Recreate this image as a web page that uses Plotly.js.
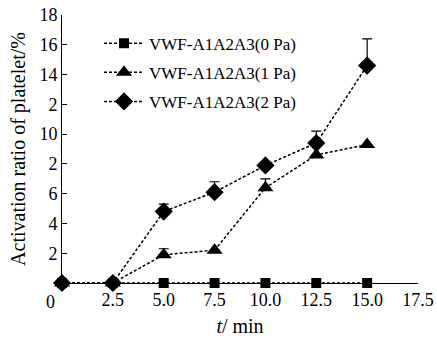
<!DOCTYPE html>
<html>
<head>
<meta charset="utf-8">
<script src="https://cdn.plot.ly/plotly-3.0.1.min.js"></script>
<style>html,body{margin:0;padding:0;background:#fff;}#chart{width:437px;height:339px;}</style>
</head>
<body>
<div id="chart"></div>
<script>
const times = [0, 2.5, 5.0, 7.5, 10.0, 12.5, 15.0];
const pa0 = [0, 0, 0, 0, 0, 0, 0];
const pa1 = [0, 0, 1.9, 2.2, 6.4, 8.6, 9.3];
const pa1Err = [0, 0, 0.4, 0, 0.6, 0, 0];
const pa2 = [0, 0, 4.8, 6.1, 7.9, 9.4, 14.6];
const pa2Err = [0, 0, 0.5, 0.7, 0.2, 0.8, 1.8];
const names = ['VWF-A1A2A3(0 Pa)', 'VWF-A1A2A3(1 Pa)', 'VWF-A1A2A3(2 Pa)'];
const xTickVals = [2.5, 5.0, 7.5, 10.0, 12.5, 15.0, 17.5];
const xTickText = ['2.5', '5.0', '7.5', '10.0', '12.5', '15.0', '17.5'];
const yTickVals = [2, 4, 6, 8, 10, 12, 14, 16, 18];
const yTickText = ['2', '4', '6', '2', '10', '2', '14', '16', '18'];

const fam = 'Liberation Serif';
const font = {family: fam, size: 17, color: '#000'};
const tickFont = {family: fam, size: 18, color: '#000'};
const titleFont = {family: fam, size: 20, color: '#000'};
const line = {color: '#000', width: 1.5, dash: '3px,2px'};
function zeros(a){return a.map(()=>0);}

const traces = [
  {x: times, y: pa0, name: names[0], legendgroup: 'a', mode: 'lines+markers', line: line, cliponaxis: false,
   marker: {symbol: 'square', size: 10, color: '#000'}},
  {x: times, y: pa1, name: names[1], legendgroup: 'b', mode: 'lines+markers', line: line, cliponaxis: false,
   marker: {symbol: 'triangle-up', size: 14, color: '#000'},
   error_y: {type: 'data', symmetric: false, array: pa1Err, arrayminus: zeros(pa1Err), color: '#000', thickness: 1.2, width: 5}},
  {x: times, y: pa2, name: names[2], legendgroup: 'c', mode: 'lines+markers', line: line, cliponaxis: false,
   marker: {symbol: 'diamond', size: 14, color: '#000'},
   error_y: {type: 'data', symmetric: false, array: pa2Err, arrayminus: zeros(pa2Err), color: '#000', thickness: 1.2, width: 5}}
];

const layout = {
  width: 437, height: 339,
  margin: {l: 62, r: 19, t: 15, b: 56},
  paper_bgcolor: '#fff', plot_bgcolor: '#fff',
  font: font,
  showlegend: true,
  legend: {x: 0.104, y: 0.96, xanchor: 'left', yanchor: 'top', font: font, bgcolor: 'rgba(0,0,0,0)', tracegroupgap: 4, itemwidth: 40},
  xaxis: {range: [0, 17.5], tickmode: 'array', tickvals: xTickVals, ticktext: xTickText,
    ticks: 'inside', ticklen: 5, tickwidth: 1, tickcolor: '#000', showline: true, linecolor: '#000', linewidth: 1,
    showgrid: false, zeroline: false, tickfont: tickFont,
    title: {text: '<i>t</i>/ min', font: titleFont, standoff: 10}},
  yaxis: {range: [0, 18], tickmode: 'array', tickvals: yTickVals, ticktext: yTickText,
    ticks: 'inside', ticklen: 5, tickwidth: 1, tickcolor: '#000', showline: true, linecolor: '#000', linewidth: 1,
    showgrid: false, zeroline: false, tickfont: tickFont,
    title: {text: 'Activation ratio of platelet/%', font: titleFont, standoff: 8}},
  annotations: [{x: 0, y: 0, xref: 'x', yref: 'y', text: '0', showarrow: false, font: tickFont,
    xanchor: 'center', yanchor: 'top', xshift: -12, yshift: -7}]
};

Plotly.newPlot('chart', traces, layout, {staticPlot: true, displayModeBar: false});
</script>
</body>
</html>
